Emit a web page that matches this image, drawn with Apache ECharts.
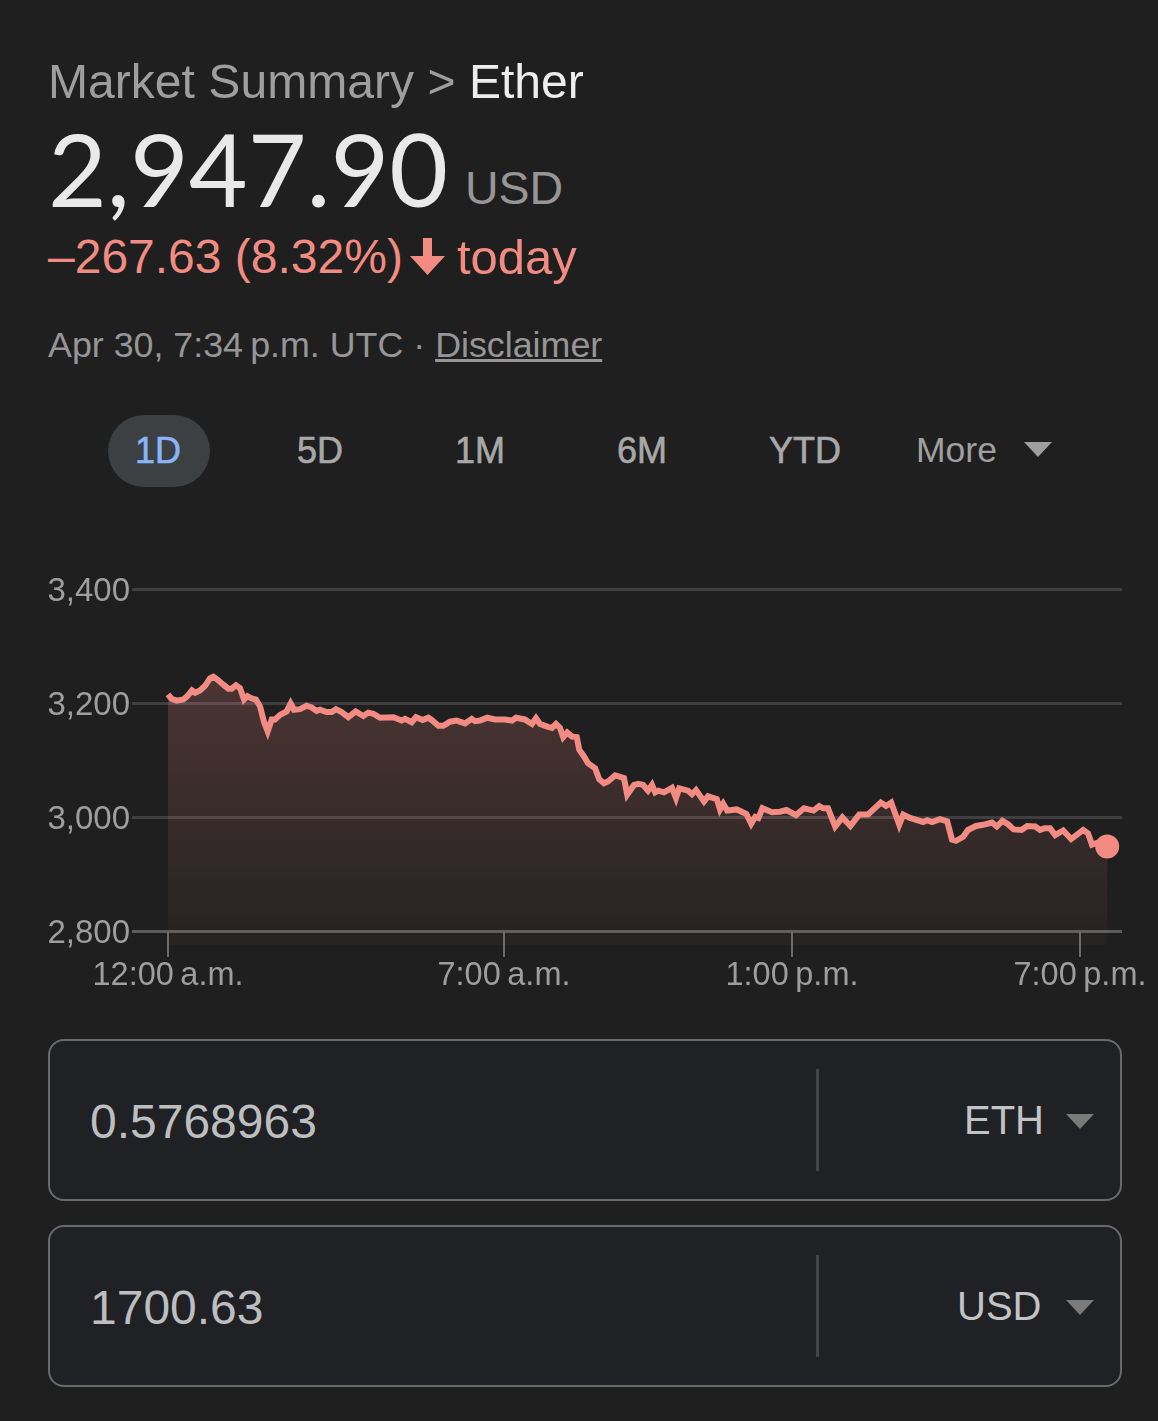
<!DOCTYPE html>
<html>
<head>
<meta charset="utf-8">
<title>Ether</title>
<script src="https://cdn.jsdelivr.net/npm/echarts@6/dist/echarts.min.js"></script>
<style>
  html, body { margin: 0; padding: 0; background: #1f1f1f; }
  body { position: relative; width: 1158px; height: 1421px; overflow: hidden; font-family: "Liberation Sans", sans-serif; }
  .t { position: absolute; white-space: nowrap; line-height: 1; }
  #chart { position: absolute; left: 0; top: 560px; width: 1158px; height: 440px; }
  .chip { position: absolute; left: 108px; top: 415px; width: 102px; height: 72px; border-radius: 36px; background: #3c4043; }
  .tab { font-size: 36px; color: #a8a8a8; -webkit-text-stroke: 0.6px currentColor; top: 433px; }
  .tri { position: absolute; width: 0; height: 0; border-left: 14px solid transparent; border-right: 14px solid transparent; border-top: 15px solid #9e9e9e; }
  .tri.dim { border-top-color: #7a7a7a; }
  .box { position: absolute; left: 48px; width: 1070px; border: 2px solid #6a6a6c; border-radius: 16px; background: #202124; }
  .sep { position: absolute; left: 816px; width: 3px; background: #434548; }
</style>
</head>
<body>
  <div class="t" style="left:48px;top:57px;font-size:48.100px;color:#9e9e9e">Market Summary &gt; <span style="color:#ededed">Ether</span></div>
  <div class="t" style="left:48px;top:118px;font-size:101.500px;color:#e9e9e9;font-family:Lato,sans-serif">2,947.90</div>
  <div class="t" style="left:465px;top:165px;font-size:46.500px;color:#969696">USD</div>
  <div class="t" style="left:48px;top:233px;font-size:48px;color:#f28b82">–267.63 (8.32%)</div>
  <svg style="position:absolute;left:410px;top:238px" width="36" height="38"><path d="M13 0h9v18h13L17.500 37 0 18h13z" fill="#f28b82"/></svg>
  <div class="t" style="left:457px;top:233px;font-size:49px;color:#f28b82">today</div>
  <div class="t" style="left:48px;top:328px;font-size:35.800px;color:#969696">Apr 30, 7:34&#8239;p.m. UTC · <span style="text-decoration:underline">Disclaimer</span></div>

  <div class="chip"></div>
  <div class="t tab" style="left:135px;color:#8ab4f8">1D</div>
  <div class="t tab" style="left:297px">5D</div>
  <div class="t tab" style="left:455px">1M</div>
  <div class="t tab" style="left:617px">6M</div>
  <div class="t tab" style="left:769px">YTD</div>
  <div class="t" style="left:916px;top:433px;font-size:35.500px;color:#a0a0a0">More</div>
  <div class="tri" style="left:1024px;top:442px"></div>

  <div id="chart"></div>

  <div class="box" style="top:1039px;height:158px"></div>
  <div class="sep" style="top:1069px;height:102px"></div>
  <div class="t" style="left:90px;top:1098px;font-size:48px;color:#bdbec0">0.5768963</div>
  <div class="t" style="left:964px;top:1100px;font-size:40px;color:#c2c3c5">ETH</div>
  <div class="tri dim" style="left:1066px;top:1114px"></div>

  <div class="box" style="top:1225px;height:158px"></div>
  <div class="sep" style="top:1255px;height:102px"></div>
  <div class="t" style="left:90px;top:1284px;font-size:48px;color:#bdbec0">1700.63</div>
  <div class="t" style="left:957px;top:1286px;font-size:40px;color:#c2c3c5">USD</div>
  <div class="tri dim" style="left:1066px;top:1300px"></div>

<script>
// minutes since midnight UTC
const times = [0,4.6,10.8,19.2,24.2,30,33.8,40,46.3,52.5,56.7,61.7,69.2,75.4,79.6,85,90,95,99.2,104.6,110,115,120,124.6,129.6,133.8,140,148.3,153.3,157.5,165,173.3,179.6,185.8,190,198.3,204.6,210,217,225.4,234.6,244.2,250.4,256.7,265,281.7,292,296.3,304.6,310,318.3,325.4,329.6,338,344.2,352.5,360.8,371.3,379.6,383.8,
  390,399,409,421,430,435,446,455,460,465,475,480,485,490,494,499,505,511,514,520,525,534,539,545,550,559,570,574,582.5,588,594,600,605,609,613,620,630,635,639,650,655,660,670,675,686,690,694,699,711,723,729,734,738,743,755,765,773,785,795,
  807,814,819,825,834,843,853,864,875,891,897.5,904,914,919,927.5,944,949,955,965,974,980,985,994,1000,1010,1019,1030,1036,1043,1050,1057,1067,1074,1084,1090,1096,1102.5,1109,1119,1129,1144,1150,1155,1161,1174];
const prices = [3215,3207,3204,3206,3212,3222,3218,3222,3230,3243,3246,3241,3232,3225,3225,3231,3226,3206,3212,3208,3206,3194,3167,3150,3171,3171,3179,3185,3199,3188,3189,3195,3192,3186,3188,3184,3184,3189,3184,3175,3185,3177,3183,3181,3174,3175,3169,3172,3166,3175,3170,3174,3170,3160,3160,3167,3169,3164,3172,3168,
  3169,3174,3171,3171,3169,3174,3171,3163,3173,3163,3158,3156,3163,3156,3140,3148,3141,3140,3118,3106,3094,3085,3066,3059,3062,3073,3068,3039,3056,3058,3056,3046,3056,3043,3046,3043,3051,3033,3050,3046,3040,3047,3027,3036,3031,3013,3023,3011,3013,3005,2988,3000,2998,3015,3008,3009,3012,3003,3015,
  3011,3019,3015,3015,2983,2999,2984,3004,3004,3025,3019,3025,2986,3004,2998,2991,2994,2991,2996,2992,2960,2958,2965,2977,2984,2986,2990,2983,2993,2987,2978,2977,2984,2983,2977,2980,2980,2968,2976,2961,2977,2971,2951,2954,2947.9];
const xTicks = [0, 420, 780, 1140];
const xLabels = ['12:00\u202fa.m.', '7:00\u202fa.m.', '1:00\u202fp.m.', '7:00\u202fp.m.'];
const yTicks = [2800, 3000, 3200, 3400];

const LINE_COLOR = '#f28b82';
const LABEL_FONT = 'Liberation Sans';
const chart = echarts.init(document.getElementById('chart'));

chart.setOption({
  animation: false,
  grid: { left: 132, right: 36, top: 29, bottom: 55 },
  xAxis: {
    type: 'value',
    min: -45,
    max: 1192.5,
    offset: -14,
    splitLine: { show: false },
    axisLine: { show: true, lineStyle: { color: '#5c5c5e', width: 3, cap: 'butt' } },
    axisTick: { show: true, customValues: xTicks, length: 26, lineStyle: { color: '#6a6a6a', width: 2 } },
    axisLabel: {
      customValues: xTicks,
      margin: 29,
      color: '#9e9e9e',
      fontSize: 32.5,
      fontFamily: LABEL_FONT,
      hideOverlap: false,
      showMinLabel: true,
      showMaxLabel: true,
      formatter: (v) => xLabels[xTicks.indexOf(v)]
    }
  },
  yAxis: {
    type: 'value',
    min: 2775,
    max: 3400,
    axisLine: { show: false },
    axisTick: { show: false, customValues: yTicks },
    splitLine: { show: true, lineStyle: { color: '#3f3f41', width: 3 } },
    axisLabel: {
      customValues: yTicks,
      margin: 2,
      color: '#9e9e9e',
      fontSize: 33,
      fontFamily: LABEL_FONT,
      verticalAlign: 'top',
      lineHeight: 6,
      formatter: (v) => v.toLocaleString('en-US')
    }
  },
  series: [{
    type: 'line',
    data: times.map((t, i) => [t, prices[i]]),
    symbol: 'none',
    smooth: false,
    lineStyle: { color: LINE_COLOR, width: 6, join: 'miter' },
    areaStyle: {
      origin: 'start',
      color: new echarts.graphic.LinearGradient(0, 0, 0, 1, [
        { offset: 0, color: 'rgba(242, 139, 130, 0.3)' },
        { offset: 1, color: 'rgba(242, 139, 130, 0.05)' }
      ])
    }
  }, {
    type: 'scatter',
    data: [[times[times.length - 1], prices[prices.length - 1]]],
    symbolSize: 24,
    itemStyle: { color: LINE_COLOR, opacity: 1 }
  }]
});
</script>
</body>
</html>
